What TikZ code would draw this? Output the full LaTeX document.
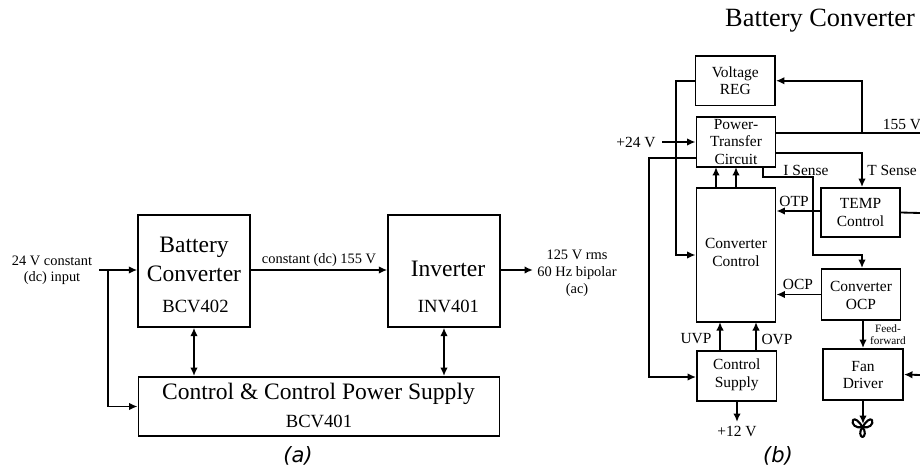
\documentclass[tikz,border=0pt]{standalone}
\usepackage{fontspec}
\setmainfont{Liberation Serif}
\newfontfamily\capfont{DejaVu Sans}
\usetikzlibrary{arrows.meta}
\usetikzlibrary{calc}
\def\pxsize{0.02cm}
\begin{document}
\begin{tikzpicture}[
  x=0.02cm, y=-0.02cm,
  >={Latex[length=1.7mm,width=1.5mm]},
  dep/.style ={
    ->,line width=1.05pt
  },
  dbl/.style ={
    <->,line width=1.05pt
  },
  wire/.style ={
    line width=1.05pt
  },
  blk/.style 2 args={
    rectangle,
    draw,
    line width=1.05pt,
    align=center,
    inner sep=0pt,
    minimum width=#1*\pxsize,
    minimum height=#2*\pxsize},
  big/.style={
    font=\fontsize{13.4}{15}\selectfont},
  mid/.style={
    font=\fontsize{10.6}{12}\selectfont},
  small/.style={
    font=\fontsize{8.8}{10.2}\selectfont,align=center,inner sep=0pt},
  tiny/.style={
    font=\fontsize{8.2}{9.2}\selectfont,align=center,inner sep=0pt},
  feed/.style={
    font=\fontsize{6.4}{6.9}\selectfont,align=center,inner sep=0pt},
  caplabel/.style={
    font=\capfont\itshape\fontsize{12}{14}\selectfont,inner sep=0pt},
  blade/.style={
    line width=1.2pt,fill=white,line join=round},
]
  \useasboundingbox (0,0) rectangle (920,470);

    % Part (a)
    \node[blk={111.5}{111.5}] (battconv) at (194,271) {};
    \node[big,inner sep=0pt,align=center] (battname) at (194,247.5)
        {Battery};
    \node[big,inner sep=0pt,align=center] (battname2) at (194,274)
        {Converter};
    \node[mid,inner sep=0pt] (battcode) at (195.5,306) {BCV402};

    \node[blk={111.5}{111.5}] (inverter) at (444,271) {};
    \node[big,inner sep=0pt] (invname) at (448,269) {Inverter};
    \node[mid,inner sep=0pt] (invcode) at (448.5,306) {INV401};

    \node[blk={361}{59}] (ctrlpower) at (319,406.5) {};
    \node[big,inner sep=0pt] (ctrlname) at (318.5,394)
        {Control \& Control Power Supply};
    \node[mid,inner sep=0pt] (ctrlcode) at (319,421) {BCV401};

    \node[tiny] (dcin) at (52,270) {24 V constant\\(dc) input};
    \node[tiny] (dcmid) at (319,260) {constant (dc) 155 V};
    \node[tiny,font=\fontsize{8.2}{9.6}\selectfont] (acout) at (577,273)
        {125 V rms\\60 Hz bipolar\\(ac)};

    \coordinate (inend) at (99,270);
    \coordinate (infork) at (108,270);
    \coordinate (acend) at (533,270);
    \draw[dep] (inend) -- (inend -| battconv.west);
    \draw[dep] (infork) |- (ctrlpower.west);
    \draw[dep] (battconv.east |- inend) -- (inverter.west |- inend);
    \draw[dep] (inverter.east |- acend) -- (acend);
    \draw[dbl] (battconv.south) -- (battconv.south |- ctrlpower.north);
    \draw[dbl] (inverter.south) -- (inverter.south |- ctrlpower.north);

    \node[caplabel] (capa) at (298,456) {(a)};

    % Part (b)
    \node[inner sep=0pt,font=\fontsize{15}{17}\selectfont] (title) at (820,21)
        {Battery Converter};

    \node[blk={79.5}{49.5},small] (voltreg) at (735.25,80.75) {Voltage\\REG};
    \node[blk={79}{50},small,font=\fontsize{8.8}{10}\selectfont] (transfer) at (736,142)
        {Power-\\Transfer\\Circuit};
    \node[blk={79}{134},small] (convctrl) at (736,255) {};
    \node[small] (convtext) at (736,252) {Converter\\Control};
    \node[blk={79.5}{50},small] (ctrlsup) at (736.75,376) {};
    \node[small] (suptext) at (736.75,375) {Control\\Supply};
    \node[blk={79}{49},small] (tempctrl) at (860.5,212.5) {TEMP\\Control};
    \node[blk={79}{51},small] (convocp) at (861,294.5) {};
    \node[small] (ocptext) at (861,295.5) {Converter\\OCP};
    \node[blk={80}{51},small] (fandrv) at (863,374.5) {};
    \node[small] (fantext) at (863,375) {Fan\\Driver};

    \node[small] (in24) at (636,142) {+24 V};
    \node[small] (lbl155) at (902,125) {155 V};
    \node[small] (isense) at (806,170) {I Sense};
    \node[small] (tsense) at (892,170) {T Sense};
    \node[small] (otp) at (794,201) {OTP};
    \node[small] (ocp) at (798,284) {OCP};
    \node[small] (uvp) at (696,339) {UVP};
    \node[small] (ovp) at (777,339) {OVP};
    \node[small] (out12) at (737,431) {+12 V};
    \node[feed] (feedfwd) at (888,335) {Feed-\\forward};

    \coordinate (busend) at (920,133);
    \coordinate (busfork) at (862,133);
    \coordinate (tempend) at (920,213);
    \coordinate (fanend) at (920,375);
    \coordinate (in24end) at (662,142);
    \coordinate (fanhub) at (862.5,427);

    \draw[dep] (busfork) |- (voltreg.east);
    \draw[wire] (transfer.east |- busend) -- (busend);
    \draw[dep] (in24end) -- (transfer.west);
    \draw[dep] (transfer.east |- 0,153) -| (tempctrl.north -| busfork);
    \draw[dep] (voltreg.west) -| (676,255) -- (convctrl.west);
    \draw[dep] (transfer.west |- 0,158) -| (649,377) -- (ctrlsup.west |- 0,377);
    \draw[dep] (763,167) |- (813,177) |- (862,255) -- (convocp.north -| busfork);
    \foreach \step in {716,736} {
        \draw[dep] (\step,188) -- (\step,167);
    }
    \foreach \step in {720,756} {
        \draw[dep] (\step,351) -- (\step,322);
    }
    \draw[dep] (tempctrl.west |- 0,211) -- (convctrl.east |- 0,211);
    \draw[wire] (tempctrl.east) -- (tempend);
    \draw[dep] (convocp.west) -- (convctrl.east |- convocp.west);
    \draw[dep] (fanend) -- (fandrv.east);
    \draw[dep] (737,401) -- (737,422);
    \draw[dep] (863,320) -- (fandrv.north);

    \draw[blade] (fanhub) .. controls (859,421) and (855,418) .. (853,420)
        .. controls (851,424) and (856,429) .. (fanhub);
    \draw[blade] (fanhub) .. controls (866,421) and (870,418) .. (872,420)
        .. controls (874,424) and (869,429) .. (fanhub);
    \draw[blade] (fanhub) .. controls (859,431) and (860,437) .. (862.5,437)
        .. controls (865,437) and (866,431) .. (fanhub);
    \draw[dep] (fandrv.south) -- (863,424);

    \node[caplabel] (capb) at (778,456) {(b)};

\end{tikzpicture}
\end{document}
